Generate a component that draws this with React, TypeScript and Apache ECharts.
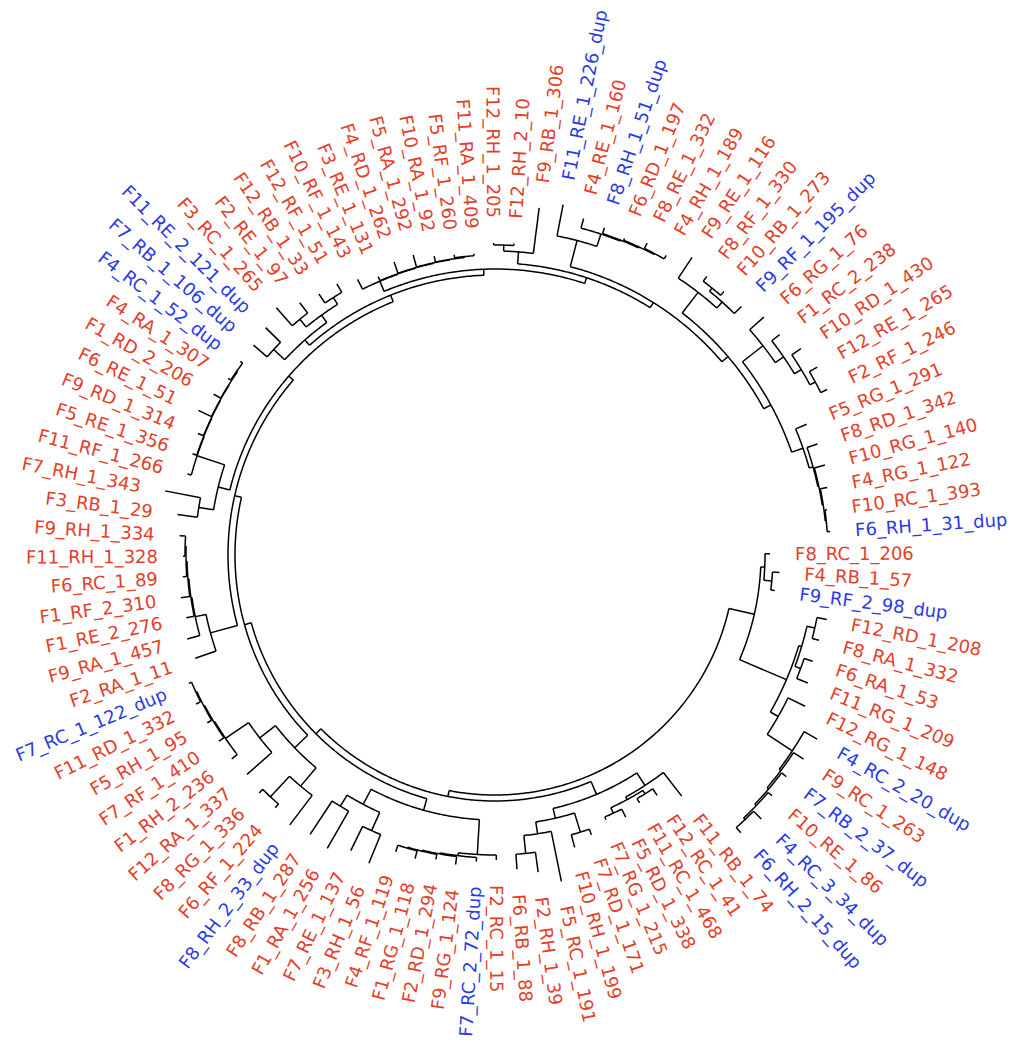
import React, { useEffect, useRef } from "react";
import * as echarts from "echarts";

// Leaf labels, listed clockwise starting just right of 12 o'clock
const leafNames: string[] = [
  "F12_RH_2_10", "F9_RB_1_306", "F11_RE_1_226_dup", "F4_RE_1_160", "F8_RH_1_51_dup", "F6_RD_1_197",
  "F8_RE_1_332", "F4_RH_1_189", "F9_RE_1_116", "F8_RF_1_330", "F10_RB_1_273", "F9_RF_1_195_dup",
  "F6_RG_1_76", "F1_RC_2_238", "F10_RD_1_430", "F12_RE_1_265", "F2_RF_1_246", "F5_RG_1_291",
  "F8_RD_1_342", "F10_RG_1_140", "F4_RG_1_122", "F10_RC_1_393", "F6_RH_1_31_dup", "F8_RC_1_206",
  "F4_RB_1_57", "F9_RF_2_98_dup", "F12_RD_1_208", "F8_RA_1_332", "F6_RA_1_53", "F11_RG_1_209",
  "F12_RG_1_148", "F4_RC_2_20_dup", "F9_RC_1_263", "F7_RB_2_37_dup", "F10_RE_1_86", "F4_RC_3_34_dup",
  "F6_RH_2_15_dup", "F11_RB_1_74", "F12_RC_1_41", "F11_RC_1_468", "F5_RD_1_338", "F7_RG_1_215",
  "F7_RD_1_171", "F10_RH_1_199", "F5_RC_1_191", "F2_RH_1_39", "F6_RB_1_88", "F2_RC_1_15",
  "F7_RC_2_72_dup", "F9_RG_1_124", "F2_RD_1_294", "F1_RG_1_118", "F4_RF_1_119", "F3_RH_1_56",
  "F7_RE_1_137", "F1_RA_1_256", "F8_RB_1_287", "F8_RH_2_33_dup", "F6_RF_1_224", "F8_RG_1_336",
  "F12_RA_1_337", "F1_RH_2_236", "F7_RF_1_410", "F5_RH_1_95", "F11_RD_1_332", "F7_RC_1_122_dup",
  "F2_RA_1_11", "F9_RA_1_457", "F1_RE_2_276", "F1_RF_2_310", "F6_RC_1_89", "F11_RH_1_328",
  "F9_RH_1_334", "F3_RB_1_29", "F7_RH_1_343", "F11_RF_1_266", "F5_RE_1_356", "F9_RD_1_314",
  "F6_RE_1_51", "F1_RD_2_206", "F4_RA_1_307", "F4_RC_1_52_dup", "F7_RB_1_106_dup", "F11_RE_2_121_dup",
  "F3_RC_1_265", "F2_RE_1_97", "F12_RB_1_33", "F12_RF_1_51", "F10_RF_1_143", "F3_RE_1_131",
  "F4_RD_1_262", "F5_RA_1_292", "F10_RA_1_92", "F5_RF_1_260", "F11_RA_1_409", "F12_RH_1_205",
];

// Tree topology, Newick-style: leaves are 1-based indices into leafNames,
// the number after ':' is the node's distance from the root.
const cladeR =
  "((24:0.35,(25:0.45,26:0.42):0.38):0.30,(((27:0.98,28:0.95):0.88,(29:0.95,30:0.98):0.86):0.80," +
  "(31:1.05,(32:1.31,(33:1.30,(34:1.26,(35:1.27,(36:1.35,37:1.31):1.24):1.22):1.20):1.18):1.16):0.86):0.77):0.26";
const cladeB1 =
  "((38:0.65,((39:0.50,40:0.47):0.42,(41:0.53,42:0.47):0.44):0.38):0.35," +
  "((43:0.56,44:0.63):0.50,(45:0.93,(46:0.80,47:0.75):0.60):0.42):0.30):0.20";
const cladeB2 =
  "((48:0.65,(49:0.67,(50:0.72,(51:0.70,(52:0.74,53:0.73):0.66):0.65):0.64):0.63):0.60," +
  "((54:0.93,55:0.89):0.62,(56:0.98,57:0.95):0.55):0.42):0.25";
const cladeL1 =
  "((58:0.99,(59:0.95,60:0.95):0.90):0.62," +
  "(61:0.91,(62:0.93,(63:0.93,(64:0.93,(65:0.94,66:0.92):0.89):0.88):0.87):0.86):0.58):0.38";
const cladeL2 = "(67:0.77,(68:0.79,(69:0.75,(70:0.77,(71:0.73,(72:0.72,73:0.76):0.70):0.69):0.68):0.67):0.66):0.55";
const cladeL3 =
  "((74:0.80,75:0.96):0.60,(76:0.78,(77:0.79,(78:0.81,(79:0.90,(80:0.84,(81:0.80,82:0.80):0.77):0.76):0.755):0.75):0.745):0.74):0.45";
const cladeT1 = "((83:0.80,84:0.83):0.62,((85:0.90,86:0.79):0.66,(87:0.75,88:0.74):0.64):0.56):0.47";
const cladeT2 = "(89:0.68,(90:0.62,(91:0.70,(92:0.71,(93:0.65,(94:0.63,95:0.62):0.60):0.59):0.585):0.58):0.575):0.57";
const cladeT3 = "((96:0.72,1:0.72):0.70,2:1.10):0.64";
const cladeTRa = "(3:1.17,(4:1.08,(5:1.05,(6:1.02,(7:1.07,8:1.05):1.01):1.00):0.99):0.98):0.85";
const cladeTRc = "(9:1.17,((10:1.10,11:1.09):1.04,12:1.10):1.00):0.92";
const cladeTRe = "(13:1.19,(14:1.20,(15:1.29,(16:1.33,17:1.31):1.24):1.18):1.10):1.00";
const cladeTRf = "(18:0.98,(19:1.01,(20:1.02,(21:0.99,(22:0.95,23:0.96):0.93):0.92):0.91):0.90):0.86";
const cladeTR = `(${cladeTRa},(${cladeTRc},(${cladeTRe},${cladeTRf}):0.74):0.66):0.58`;

const treeNewick =
  `(${cladeR},(${cladeB1},(${cladeB2},(${cladeL1},(${cladeL2},(${cladeL3},(${cladeT1},(${cladeT2},` +
  `(${cladeT3},${cladeTR}):0.52):0.46):0.40):0.33):0.27):0.20):0.13):0.06):0.00`;

const ROOT_FIRST_LEAF = 24; // first leaf reached when walking the tree from the root
const LEAF_COUNT = 96;
const LABEL_GAP = 0.25;
const RED = "#e3402b";
const BLUE = "#2b3be2";

type TNode = { leaf: number; depth: number; children: TNode[]; angle: number };

function parseNewick(src: string): TNode {
  const s = src.replace(/\s+/g, "");
  let i = 0;
  const num = (): number => {
    let j = i;
    while (j < s.length && /[0-9.\-]/.test(s[j])) j++;
    const v = parseFloat(s.slice(i, j));
    i = j;
    return v;
  };
  const node = (): TNode => {
    let n: TNode;
    if (s[i] === "(") {
      i++;
      const children = [node()];
      while (s[i] === ",") {
        i++;
        children.push(node());
      }
      i++;
      n = { leaf: 0, depth: 0, children, angle: 0 };
    } else {
      n = { leaf: num(), depth: 0, children: [], angle: 0 };
    }
    if (s[i] === ":") {
      i++;
      n.depth = num();
    }
    return n;
  };
  return node();
}

function layout(n: TNode) {
  if (n.children.length === 0) {
    n.angle = ((n.leaf - ROOT_FIRST_LEAF + LEAF_COUNT) % LEAF_COUNT) + ROOT_FIRST_LEAF - 1;
    return;
  }
  n.children.forEach(layout);
  n.angle = (n.children[0].angle + n.children[n.children.length - 1].angle) / 2;
}

function collect(n: TNode, radials: number[][], arcs: number[][], tips: number[][]) {
  if (n.children.length === 0) {
    tips.push([n.depth, n.angle, n.leaf]);
    return;
  }
  const first = n.children[0];
  const last = n.children[n.children.length - 1];
  arcs.push([n.depth, first.angle, last.angle]);
  n.children.forEach((c) => {
    radials.push([n.depth, c.angle, c.depth]);
    collect(c, radials, arcs, tips);
  });
}

export default function App() {
  const ref = useRef<HTMLDivElement>(null);
  useEffect(() => {
    const chart = echarts.init(ref.current!, null, { renderer: "svg" });
    const root = parseNewick(treeNewick);
    layout(root);
    const radials: number[][] = [];
    const arcs: number[][] = [];
    const tips: number[][] = [];
    collect(root, radials, arcs, tips);
    const wrap = (a: number) => ((a % LEAF_COUNT) + LEAF_COUNT) % LEAF_COUNT;
    const lineStyle = { stroke: "#000", lineWidth: 1.5, fill: null };
    const hidden = {
      axisLine: { show: false },
      axisTick: { show: false },
      axisLabel: { show: false },
      splitLine: { show: false },
      splitArea: { show: false },
    };
    chart.setOption({
      animation: false,
      polar: { center: [495, 555], radius: 540 },
      angleAxis: { type: "value", min: 0, max: LEAF_COUNT, startAngle: 86.5, clockwise: true, ...hidden },
      radiusAxis: { type: "value", min: -2.4, max: 3.0, ...hidden },
      series: [
        {
          type: "custom",
          coordinateSystem: "polar",
          data: radials,
          renderItem: (_p: any, api: any) => {
            const d1 = api.value(0);
            const a = wrap(api.value(1));
            const d2 = api.value(2);
            const p1 = api.coord([d1, a]);
            const p2 = api.coord([d2, a]);
            return { type: "line", shape: { x1: p1[0], y1: p1[1], x2: p2[0], y2: p2[1] }, style: lineStyle };
          },
        },
        {
          type: "custom",
          coordinateSystem: "polar",
          data: arcs,
          renderItem: (_p: any, api: any) => {
            const d = api.value(0);
            const a1 = api.value(1);
            const a2 = api.value(2);
            const n = Math.max(2, Math.ceil(Math.abs(a2 - a1) / 0.1));
            const pts: number[][] = [];
            for (let k = 0; k <= n; k++) pts.push(api.coord([d, wrap(a1 + ((a2 - a1) * k) / n)]));
            return { type: "polyline", shape: { points: pts }, style: lineStyle };
          },
        },
        {
          type: "custom",
          coordinateSystem: "polar",
          data: tips,
          renderItem: (_p: any, api: any) => {
            const d = api.value(0);
            const a = wrap(api.value(1));
            const idx = api.value(2);
            const name = leafNames[idx - 1];
            const p0 = api.coord([d, a]);
            const p1 = api.coord([d + LABEL_GAP, a]);
            const dx = p1[0] - p0[0];
            const dir = Math.atan2(p1[1] - p0[1], dx);
            const left = dx < -1e-6;
            return {
              type: "text",
              x: p1[0],
              y: p1[1],
              rotation: left ? Math.PI - dir : -dir,
              style: {
                text: name,
                fill: name.endsWith("_dup") ? BLUE : RED,
                fontSize: 18,
                fontFamily: "DejaVu Sans",
                align: left ? "right" : "left",
                verticalAlign: "middle",
              },
            };
          },
        },
      ],
    });
    return () => chart.dispose();
  }, []);
  return <div ref={ref} style={{ position: "absolute", left: 0, top: 0, width: 1012, height: 1042, background: "#fff" }} />;
}
